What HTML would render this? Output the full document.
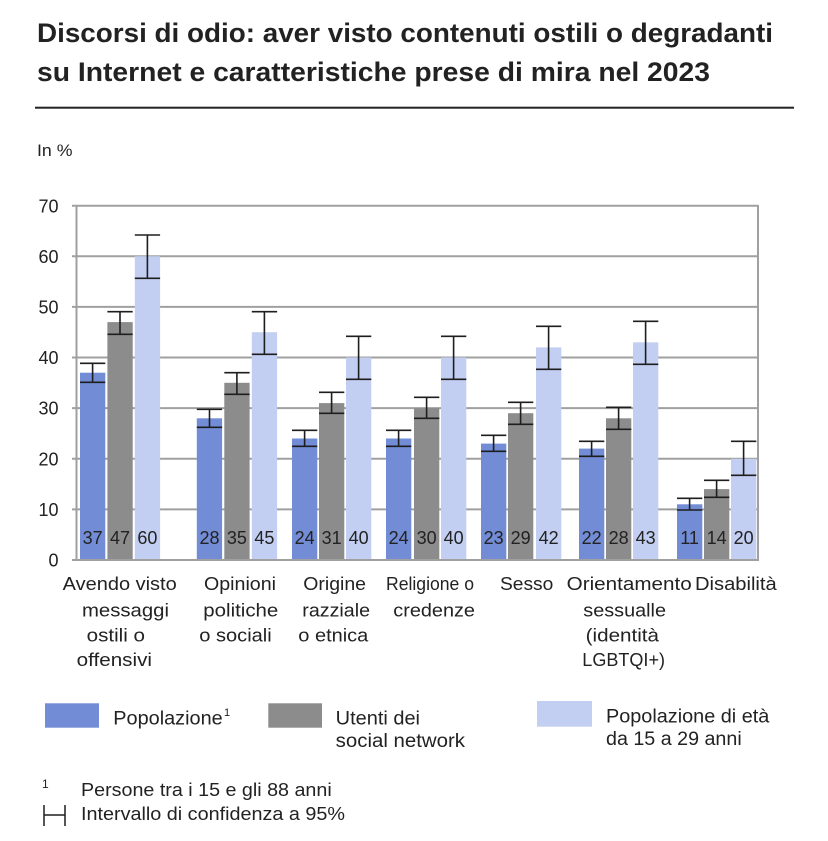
<!DOCTYPE html>
<html>
<head>
<meta charset="utf-8">
<style>
html,body{margin:0;padding:0;background:#fff;}
svg{display:block;}
text{font-family:"Liberation Sans",Arial,sans-serif;fill:#222;}
</style>
</head>
<body>
<svg width="828" height="841" viewBox="0 0 828 841" xmlns="http://www.w3.org/2000/svg">
<!-- Title -->
<text x="37" y="42" font-size="27" font-weight="bold" textLength="736" lengthAdjust="spacingAndGlyphs" fill="#1e1e1e">Discorsi di odio: aver visto contenuti ostili o degradanti</text>
<text x="37" y="81" font-size="27" font-weight="bold" textLength="673" lengthAdjust="spacingAndGlyphs" fill="#1e1e1e">su Internet e caratteristiche prese di mira nel 2023</text>
<rect x="35" y="106.7" width="759" height="2" fill="#222"/>
<text x="37" y="156" font-size="17" textLength="35.5" lengthAdjust="spacingAndGlyphs">In %</text>

<!-- Gridlines -->
<g stroke="#a0a0a0" stroke-width="2">
<line x1="72" y1="205.7" x2="758" y2="205.7"/>
<line x1="72" y1="256.3" x2="758" y2="256.3"/>
<line x1="72" y1="306.9" x2="758" y2="306.9"/>
<line x1="72" y1="357.5" x2="758" y2="357.5"/>
<line x1="72" y1="408.1" x2="758" y2="408.1"/>
<line x1="72" y1="458.8" x2="758" y2="458.8"/>
<line x1="72" y1="509.4" x2="758" y2="509.4"/>
<line x1="76.5" y1="205" x2="76.5" y2="561"/>
<line x1="758" y1="205" x2="758" y2="561"/>
</g>

<!-- Y tick labels -->
<g font-size="18" text-anchor="end" fill="#222">
<text x="58.5" y="212.5">70</text>
<text x="58.5" y="263">60</text>
<text x="58.5" y="313.5">50</text>
<text x="58.5" y="364">40</text>
<text x="58.5" y="414.6">30</text>
<text x="58.5" y="465.3">20</text>
<text x="58.5" y="516">10</text>
<text x="58.5" y="566.5">0</text>
</g>

<!-- Bars -->
<g>
<!-- G1 -->
<rect x="80" y="372.7" width="25.3" height="187" fill="#728cd6"/>
<rect x="107.4" y="322.1" width="25.3" height="237.6" fill="#8c8c8c"/>
<rect x="134.8" y="256.3" width="25.3" height="303.4" fill="#c3cff2"/>
<!-- G2 -->
<rect x="196.8" y="418.3" width="25.3" height="141.4" fill="#728cd6"/>
<rect x="224.3" y="382.8" width="25.3" height="176.9" fill="#8c8c8c"/>
<rect x="251.8" y="332.2" width="25.3" height="227.5" fill="#c3cff2"/>
<!-- G3 -->
<rect x="292" y="438.5" width="25.3" height="121.2" fill="#728cd6"/>
<rect x="319" y="403.1" width="25.3" height="156.6" fill="#8c8c8c"/>
<rect x="346" y="357.5" width="25.3" height="202.2" fill="#c3cff2"/>
<!-- G4 -->
<rect x="386" y="438.5" width="25.3" height="121.2" fill="#728cd6"/>
<rect x="414" y="408.1" width="25.3" height="151.6" fill="#8c8c8c"/>
<rect x="441" y="357.5" width="25.3" height="202.2" fill="#c3cff2"/>
<!-- G5 -->
<rect x="481" y="443.6" width="25.3" height="116.1" fill="#728cd6"/>
<rect x="508" y="413.2" width="25.3" height="146.5" fill="#8c8c8c"/>
<rect x="536" y="347.4" width="25.3" height="212.3" fill="#c3cff2"/>
<!-- G6 -->
<rect x="579" y="448.6" width="25.3" height="111.1" fill="#728cd6"/>
<rect x="606" y="418.3" width="25.3" height="141.4" fill="#8c8c8c"/>
<rect x="633" y="342.3" width="25.3" height="217.4" fill="#c3cff2"/>
<!-- G7 -->
<rect x="677" y="504.3" width="25.3" height="55.4" fill="#728cd6"/>
<rect x="704" y="489.1" width="25.3" height="70.6" fill="#8c8c8c"/>
<rect x="731" y="458.8" width="25.3" height="100.9" fill="#c3cff2"/>
</g>

<!-- baseline -->
<line x1="72" y1="560" x2="758" y2="560" stroke="#a0a0a0" stroke-width="2"/>

<!-- Error bars -->
<g stroke="#1e1e1e" stroke-width="1.6" fill="none">
<path d="M80 363.3H105.3M80 382.3H105.3M92.6 363.3V382.3"/>
<path d="M107.4 311.7H132.7M107.4 334.3H132.7M120 311.7V334.3"/>
<path d="M134.8 235H160.1M134.8 278.3H160.1M147.4 235V278.3"/>

<path d="M196.8 409.3H222.1M196.8 427.3H222.1M209.5 409.3V427.3"/>
<path d="M224.3 372.7H249.6M224.3 394.3H249.6M236.9 372.7V394.3"/>
<path d="M251.8 311.7H277.1M251.8 354.3H277.1M264.4 311.7V354.3"/>

<path d="M292 430.3H317.3M292 446.3H317.3M304.6 430.3V446.3"/>
<path d="M319 392.3H344.3M319 413.3H344.3M331.6 392.3V413.3"/>
<path d="M346 336.3H371.3M346 379.3H371.3M358.6 336.3V379.3"/>

<path d="M386 430.3H411.3M386 446.3H411.3M398.6 430.3V446.3"/>
<path d="M414 397.3H439.3M414 418.3H439.3M426.6 397.3V418.3"/>
<path d="M441 336.3H466.3M441 379.3H466.3M453.6 336.3V379.3"/>

<path d="M481 435.3H506.3M481 451.3H506.3M493.6 435.3V451.3"/>
<path d="M508 402.3H533.3M508 424.3H533.3M520.6 402.3V424.3"/>
<path d="M536 326.3H561.3M536 369.3H561.3M548.6 326.3V369.3"/>

<path d="M579 441.3H604.3M579 456.3H604.3M591.6 441.3V456.3"/>
<path d="M606 407.3H631.3M606 429.3H631.3M618.6 407.3V429.3"/>
<path d="M633 321.3H658.3M633 364.3H658.3M645.6 321.3V364.3"/>

<path d="M677 498.3H702.3M677 510H702.3M689.6 498.3V510"/>
<path d="M704 480.3H729.3M704 497.3H729.3M716.6 480.3V497.3"/>
<path d="M731 441.3H756.3M731 475.3H756.3M743.6 441.3V475.3"/>
</g>

<!-- Value labels -->
<g font-size="18" text-anchor="middle" fill="#333">
<text x="92.6" y="544">37</text>
<text x="120" y="544">47</text>
<text x="147.4" y="544">60</text>
<text x="209.5" y="544">28</text>
<text x="236.9" y="544">35</text>
<text x="264.4" y="544">45</text>
<text x="304.6" y="544">24</text>
<text x="331.6" y="544">31</text>
<text x="358.6" y="544">40</text>
<text x="398.6" y="544">24</text>
<text x="426.6" y="544">30</text>
<text x="453.6" y="544">40</text>
<text x="493.6" y="544">23</text>
<text x="520.6" y="544">29</text>
<text x="548.6" y="544">42</text>
<text x="591.6" y="544">22</text>
<text x="618.6" y="544">28</text>
<text x="645.6" y="544">43</text>
<text x="689.6" y="544">11</text>
<text x="716.6" y="544">14</text>
<text x="743.6" y="544">20</text>
</g>

<!-- X labels -->
<g font-size="18" lengthAdjust="spacingAndGlyphs">
<text x="62.7" y="590" textLength="114" lengthAdjust="spacingAndGlyphs">Avendo visto</text>
<text x="82" y="616.5" textLength="87" lengthAdjust="spacingAndGlyphs">messaggi</text>
<text x="86.7" y="641.5" textLength="58.3" lengthAdjust="spacingAndGlyphs">ostili o</text>
<text x="76.7" y="666" textLength="75.3" lengthAdjust="spacingAndGlyphs">offensivi</text>

<text x="204" y="590" textLength="72" lengthAdjust="spacingAndGlyphs">Opinioni</text>
<text x="203.3" y="616.5" textLength="75" lengthAdjust="spacingAndGlyphs">politiche</text>
<text x="199.3" y="641.5" textLength="72.4" lengthAdjust="spacingAndGlyphs">o sociali</text>

<text x="303.3" y="590" textLength="62.7" lengthAdjust="spacingAndGlyphs">Origine</text>
<text x="302.3" y="616.5" textLength="67.7" lengthAdjust="spacingAndGlyphs">razziale</text>
<text x="298.3" y="641.5" textLength="70" lengthAdjust="spacingAndGlyphs">o etnica</text>

<text x="386" y="590" textLength="88" lengthAdjust="spacingAndGlyphs">Religione o</text>
<text x="393.3" y="616.5" textLength="81.7" lengthAdjust="spacingAndGlyphs">credenze</text>

<text x="500" y="590" textLength="53.3" lengthAdjust="spacingAndGlyphs">Sesso</text>

<text x="566.7" y="590" textLength="125" lengthAdjust="spacingAndGlyphs">Orientamento</text>
<text x="583.3" y="616.5" textLength="82.7" lengthAdjust="spacingAndGlyphs">sessualle</text>
<text x="585.7" y="641.5" textLength="73.3" lengthAdjust="spacingAndGlyphs">(identità</text>
<text x="582.3" y="666" textLength="82.7" lengthAdjust="spacingAndGlyphs">LGBTQI+)</text>

<text x="695" y="590" textLength="81.7" lengthAdjust="spacingAndGlyphs">Disabilità</text>
</g>

<!-- Legend -->
<rect x="45" y="703.3" width="54" height="24.4" fill="#728cd6"/>
<text x="113.3" y="724.3" font-size="19" textLength="109.4" lengthAdjust="spacingAndGlyphs">Popolazione</text>
<text x="224" y="716" font-size="11">1</text>

<rect x="268.3" y="703.3" width="53.7" height="24.4" fill="#8c8c8c"/>
<text x="335.7" y="724.3" font-size="19" textLength="84.3" lengthAdjust="spacingAndGlyphs">Utenti dei</text>
<text x="335.7" y="747" font-size="19" textLength="129.3" lengthAdjust="spacingAndGlyphs">social network</text>

<rect x="537" y="701" width="55" height="25.7" fill="#c3cff2"/>
<text x="606" y="722.3" font-size="19" textLength="163.3" lengthAdjust="spacingAndGlyphs">Popolazione di età</text>
<text x="606" y="745" font-size="19" textLength="135.7" lengthAdjust="spacingAndGlyphs">da 15 a 29 anni</text>

<!-- Footnotes -->
<text x="42" y="788" font-size="12">1</text>
<text x="81" y="796" font-size="18" textLength="250.7" lengthAdjust="spacingAndGlyphs">Persone tra i 15 e gli 88 anni</text>
<g stroke="#1e1e1e" stroke-width="1.5">
<line x1="44" y1="805" x2="44" y2="826"/>
<line x1="65" y1="805" x2="65" y2="826"/>
<line x1="44" y1="815" x2="65" y2="815"/>
</g>
<text x="81" y="820" font-size="18" textLength="264" lengthAdjust="spacingAndGlyphs">Intervallo di confidenza a 95%</text>
</svg>
</body>
</html>
